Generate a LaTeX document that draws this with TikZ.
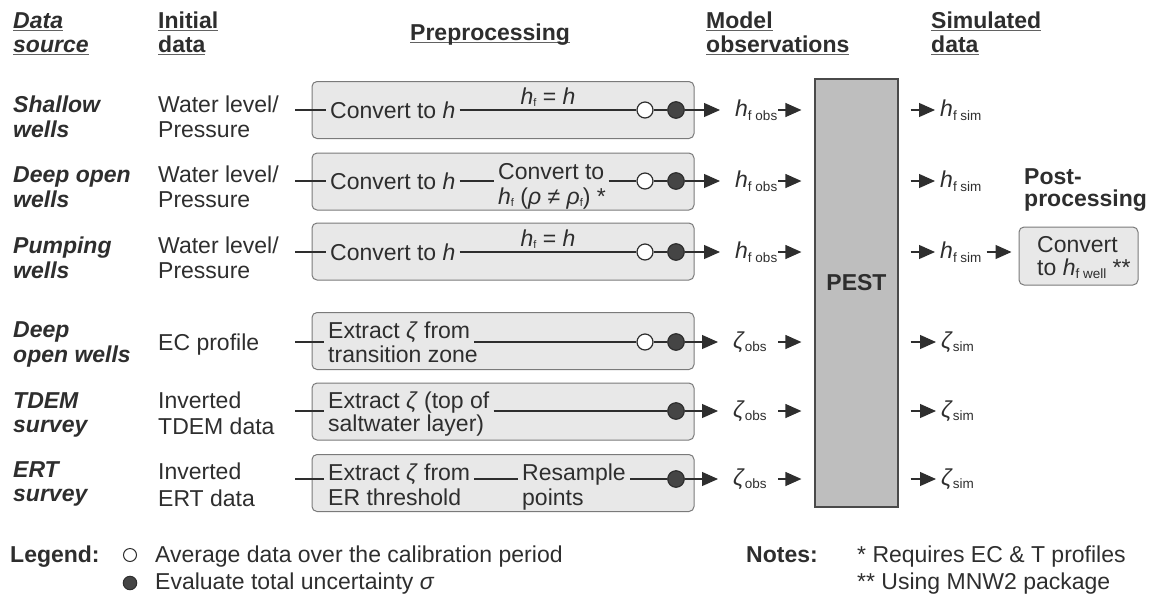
\documentclass[tikz,border=0pt]{standalone}
\usepackage{fontspec}
\setmainfont{Liberation Sans}
\usetikzlibrary{arrows.meta}

\definecolor{ink}{HTML}{2E2E2E}
\definecolor{boxfill}{HTML}{E8E8E8}
\definecolor{boxline}{HTML}{7A7A7A}
\definecolor{pestfill}{HTML}{BEBEBE}
\definecolor{pestline}{HTML}{4A4A4A}
\definecolor{dotfill}{HTML}{454545}

% underlined heading word, rule close under the baseline
\newsavebox\ulbox
\newcommand\ulword[1]{\sbox\ulbox{#1}\rlap{\color{ink!75}\rule[-3.3pt]{\wd\ulbox}{1.3pt}}\usebox\ulbox}
% subscripts: labels and box texts
\newcommand\sbs[1]{\raisebox{-3.5pt}{\fontsize{13.5}{14}\selectfont #1}}
\newcommand\tsb[1]{\raisebox{-2.5pt}{\fontsize{11}{12}\selectfont #1}}

\begin{document}
\begin{tikzpicture}[x=1pt,y=-1pt,
  base/.style={inner sep=0pt, text=ink, font=\fontsize{23}{25}\selectfont},
  txt/.style={base, anchor=base west},
  wt/.style={txt, inner xsep=4pt},
  hd/.style={txt, font=\fontsize{23}{25}\selectfont\bfseries},
  src/.style={txt, font=\fontsize{23}{25}\selectfont\bfseries\itshape},
  lab/.style={base, anchor=west},
  pbox/.style={draw=boxline, fill=boxfill, rounded corners=5pt, line width=1pt,
    minimum width=382pt, minimum height=57pt, inner sep=0pt},
  wire/.style={draw=ink, line width=1.2pt},
  arr/.style={wire, -{Triangle[length=16pt,width=14pt]}},
  hollow/.style={circle, draw=ink, fill=white, line width=1.2pt, minimum size=16pt, inner sep=0pt},
  filled/.style={circle, draw=ink, fill=dotfill, line width=1.2pt, minimum size=16.5pt, inner sep=0pt},
]
\useasboundingbox (0,0) rectangle (1152,598);

% ---------- column headings ----------
\node[src] (hds1) at (13,28) {\ulword{Data}};
\node[src] (hds2) at (13,52) {\ulword{source}};
\node[hd] (hin1) at (158,28) {\ulword{Initial}};
\node[hd] (hin2) at (158,52) {\ulword{data}};
\node[hd] (hpre) at (410,40) {\ulword{Preprocessing}};
\node[hd] (hmo1) at (706,28) {\ulword{Model}};
\node[hd] (hmo2) at (706,52) {\ulword{observations}};
\node[hd] (hsi1) at (931,28) {\ulword{Simulated}};
\node[hd] (hsi2) at (931,52) {\ulword{data}};

% ---------- row coordinates ----------
\foreach \i/\y in {1/110,2/181,3/252,4/342,5/411,6/479}{
  \coordinate (r\i) at (0,\y);
  \coordinate (e\i) at (295,\y);
  \coordinate (p\i) at (778,\y);
}

% ---------- preprocessing boxes ----------
\node[pbox] (box1) at (503,110) {};
\node[pbox] (box2) at (503,181.5) {};
\node[pbox] (box3) at (503,251.5) {};
\node[pbox] (box4) at (503,341) {};
\node[pbox] (box5) at (503,411.5) {};
\node[pbox] (box6) at (503,483) {};

% ---------- data sources ----------
\node[src] (ds1a) at (13,112) {Shallow};
\node[src] (ds1b) at (13,137) {wells};
\node[src] (ds2a) at (13,182) {Deep open};
\node[src] (ds2b) at (13,207) {wells};
\node[src] (ds3a) at (13,253) {Pumping};
\node[src] (ds3b) at (13,278) {wells};
\node[src] (ds4a) at (13,337) {Deep};
\node[src] (ds4b) at (13,362) {open wells};
\node[src] (ds5a) at (13,408) {TDEM};
\node[src] (ds5b) at (13,432) {survey};
\node[src] (ds6a) at (13,477) {ERT};
\node[src] (ds6b) at (13,501) {survey};

% ---------- initial data ----------
\node[txt] (in1a) at (158,112) {Water level/};
\node[txt] (in1b) at (158,137) {Pressure};
\node[txt] (in2a) at (158,182) {Water level/};
\node[txt] (in2b) at (158,207) {Pressure};
\node[txt] (in3a) at (158,253) {Water level/};
\node[txt] (in3b) at (158,278) {Pressure};
\node[txt] (in4)  at (158,350) {EC profile};
\node[txt] (in5a) at (158,408) {Inverted};
\node[txt] (in5b) at (158,434) {TDEM data};
\node[txt] (in6a) at (158,479) {Inverted};
\node[txt] (in6b) at (158,506) {ERT data};

% ---------- preprocessing steps ----------
\node[lab, inner xsep=4pt] (cv1) at (326,110) {Convert to \textit{h}};
\node[lab, inner xsep=4pt] (cv2) at (326,181) {Convert to \textit{h}};
\node[lab, inner xsep=4pt] (cv3) at (326,252) {Convert to \textit{h}};
\node[wt] (cf2a) at (494,179) {Convert to};
\node[txt] (cf2b) at (498,204) {\textit{h}\tsb{f} (\textit{ρ} ≠ \textit{ρ}\tsb{f}) *};
\node[txt, anchor=base] (eq1) at (548,104) {\textit{h}\tsb{f} = \textit{h}};
\node[txt, anchor=base] (eq3) at (548,246) {\textit{h}\tsb{f} = \textit{h}};
\node[wt] (ex4a) at (324,338) {Extract \textit{ζ} from};
\node[txt] (ex4b) at (328,362) {transition zone};
\node[wt] (ex5a) at (324,408) {Extract \textit{ζ} (top of};
\node[txt] (ex5b) at (328,431) {saltwater layer)};
\node[wt] (ex6a) at (324,480) {Extract \textit{ζ} from};
\node[txt] (ex6b) at (328,505) {ER threshold};
\node[wt] (rs6a) at (518,480) {Resample};
\node[txt] (rs6b) at (522,505) {points};

% averaging and uncertainty markers
\foreach \i in {1,2,3,4}{
  \node[hollow] (w\i) at (645,0 |- r\i) {};
}
\foreach \i in {1,...,6}{
  \node[filled] (b\i) at (676,0 |- r\i) {};
}

% ---------- connectors inside the rows ----------
\draw[wire] (e1) -- (cv1);
\draw[wire] (e2) -- (cv2);
\draw[wire] (e3) -- (cv3);
\draw[wire] (e4) -- (e4 -| ex4a.west);
\draw[wire] (e5) -- (e5 -| ex5a.west);
\draw[wire] (e6) -- (e6 -| ex6a.west);

\draw[wire] (cv1) -- (w1) -- (b1);
\draw[wire] (cv2) -- (cv2 -| cf2a.west);
\draw[wire] (cf2a.east |- r2) -- (w2) -- (b2);
\draw[wire] (cv3) -- (w3) -- (b3);
\draw[wire] (ex4a.east |- r4) -- (w4) -- (b4);
\draw[wire] (ex5a.east |- r5) -- (b5);
\draw[wire] (ex6a.east |- r6) -- (rs6a.west |- r6);
\draw[wire] (rs6a.east |- r6) -- (b6);

% ---------- PEST ----------
\node[draw=pestline, fill=pestfill, line width=1.2pt, minimum width=83pt,
      minimum height=428pt, inner sep=0pt] (pest) at (856.5,293) {};
\node[hd, anchor=base] (pestname) at (856.5,290) {PEST};

% ---------- model observations ----------
\foreach \i in {1,2,3}{
  \node[lab] (o\i) at (735,0 |- r\i) {\textit{h}\sbs{f obs}};
}
\foreach \i in {4,5,6}{
  \node[lab] (o\i) at (733,0 |- r\i) {\textit{ζ}\sbs{obs}};
}
\foreach \i in {1,...,6}{
  \draw[arr, shorten >=15pt] (b\i) -- (o\i);
  \draw[arr, shorten >=13pt] (p\i) -- (p\i -| pest.west);
}

% ---------- simulated data ----------
\foreach \i in {1,2,3}{
  \node[lab] (s\i) at (940,0 |- r\i) {\textit{h}\sbs{f sim}};
}
\foreach \i in {4,5,6}{
  \node[lab] (s\i) at (941,0 |- r\i) {\textit{ζ}\sbs{sim}};
}
\foreach \i in {1,...,6}{
  \draw[arr, shorten <=12pt, shorten >=5pt] (r\i -| pest.east) -- (s\i);
}

% ---------- post-processing ----------
\node[hd] (pp1) at (1024,184) {Post-};
\node[hd] (pp2) at (1024,206) {processing};
\node[pbox, minimum width=119pt, minimum height=58pt] (post) at (1078.5,256) {};
\node[txt] (post1) at (1037,252) {Convert};
\node[txt] (post2) at (1037,275) {to \textit{h}\sbs{f well} **};
\draw[arr, shorten <=5pt, shorten >=7pt] (s3) -- (s3 -| post.west);

% ---------- legend ----------
\node[hd] (leg) at (10,562) {Legend:};
\node[hollow, minimum size=13pt, line width=1pt] (lw) at (130,555) {};
\node[txt] (lwt) at (155,562) {Average data over the calibration period};
\node[filled, minimum size=13.5pt, line width=1pt] (lb) at (130,583) {};
\node[txt] (lbt) at (155,589) {Evaluate total uncertainty \textit{σ}};

% ---------- notes ----------
\node[hd] (nts) at (746,562) {Notes:};
\node[txt] (nt1) at (857,562) {* Requires EC \& T profiles};
\node[txt] (nt2) at (857,589) {** Using MNW2 package};
\end{tikzpicture}
\end{document}
